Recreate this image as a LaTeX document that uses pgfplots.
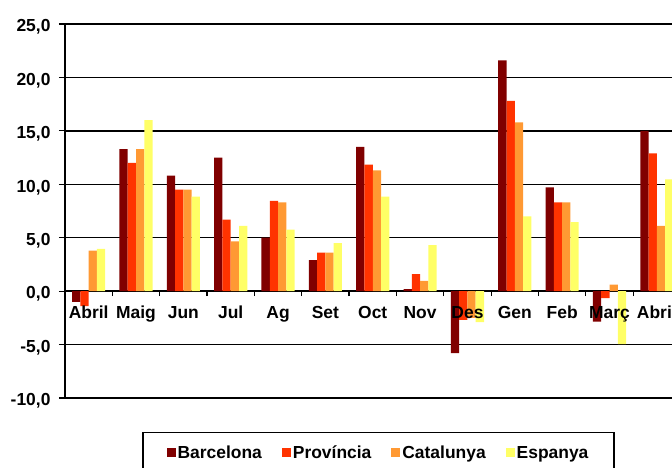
\documentclass[border=0pt]{standalone}
\usepackage{fontspec}
\setmainfont{Liberation Sans}
\usepackage{pgfplots}
\pgfplotsset{compat=1.18}
\definecolor{cBar}{HTML}{800000}
\definecolor{cPro}{HTML}{FF3300}
\definecolor{cCat}{HTML}{FF9933}
\definecolor{cEsp}{HTML}{FFFF66}
\newcommand\lbl{\bfseries\fontsize{17.5}{20}\selectfont}
\pgfplotsset{
  sqleg/.style={legend image code/.code={\fill[##1,draw=none] (0bp,-4.5bp) rectangle (9bp,4.5bp);}},
  layers/mylayers/.define layer set={
    axis background,axis grid,axis ticks,axis lines,main,axis tick labels,axis descriptions,axis foreground
  }{
    grid style={/pgfplots/on layer=axis grid},
    tick style={/pgfplots/on layer=axis ticks},
    axis line style={/pgfplots/on layer=axis lines},
    label style={/pgfplots/on layer=axis descriptions},
    legend style={/pgfplots/on layer=axis descriptions},
    title style={/pgfplots/on layer=axis descriptions},
    colorbar style={/pgfplots/on layer=axis descriptions},
    ticklabel style={/pgfplots/on layer=axis tick labels},
    axis background@ style={/pgfplots/on layer=axis background},
    3d box foreground style={/pgfplots/on layer=axis foreground},
  },
}
\begin{document}
\begin{tikzpicture}
\begin{axis}[
  set layers=mylayers,
  at={(65bp,70bp)}, anchor=south west,
  scale only axis, width=607bp, height=374bp,
  xmin=-0.5, xmax=12.32, ymin=-10, ymax=25,
  ybar=0pt, bar width=0.175,
  axis x line*=middle, axis y line*=left,
  hide obscured y ticks=false, hide obscured x ticks=false,
  x axis line style={black, line width=1.4bp},
  y axis line style={black, line width=2bp},
  ymajorgrids, grid style={black, line width=1.4bp},
  tick align=outside,
  xtick={0,...,12},
  xticklabels={Abril,Maig,Jun,Jul,Ag,Set,Oct,Nov,Des,Gen,Feb,Març,Abril},
  minor x tick num=1,
  major x tick style={draw=none},
  minor x tick style={black, line width=1.2bp},
  minor tick length=5bp, major tick length=6bp,
  ytick={-10,-5,...,25},
  yticklabels={{-10,0},{-5,0},{0,0},{5,0},{10,0},{15,0},{20,0},{25,0}},
  ytick style={black, line width=1.2bp},
  xticklabel style={font=\lbl, anchor=base, yshift=-21.5bp},
  yticklabel style={font=\lbl, xshift=-5bp, yshift=-3bp},
  legend style={at={(axis description cs:0.5165,-0.0909)}, anchor=north,
    legend columns=4, draw=black, line width=1.3bp, font=\lbl,
    inner xsep=23.5bp, inner ysep=11bp,
    /tikz/every even column/.append style={column sep=18bp}},
]
\addplot[fill=cBar, draw=none, sqleg] coordinates {(0,-1.0) (1,13.3) (2,10.8) (3,12.5) (4,5.0) (5,2.9) (6,13.5) (7,0.2) (8,-5.8) (9,21.6) (10,9.7) (11,-2.85) (12,15.0)};
\addplot[fill=cPro, draw=none, sqleg] coordinates {(0,-1.4) (1,12.0) (2,9.5) (3,6.7) (4,8.45) (5,3.6) (6,11.85) (7,1.6) (8,-2.7) (9,17.8) (10,8.3) (11,-0.65) (12,12.9)};
\addplot[fill=cCat, draw=none, sqleg] coordinates {(0,3.8) (1,13.3) (2,9.5) (3,4.65) (4,8.3) (5,3.6) (6,11.3) (7,0.95) (8,-2.5) (9,15.8) (10,8.3) (11,0.6) (12,6.1)};
\addplot[fill=cEsp, draw=none, sqleg] coordinates {(0,3.95) (1,16.0) (2,8.85) (3,6.1) (4,5.75) (5,4.5) (6,8.85) (7,4.3) (8,-2.9) (9,7.0) (10,6.45) (11,-4.95) (12,10.45)};
\legend{Barcelona,Província,Catalunya,Espanya}
\end{axis}
\pgfresetboundingbox
\path[use as bounding box] (0bp,0bp) rectangle (672bp,468bp);
\end{tikzpicture}
\end{document}
